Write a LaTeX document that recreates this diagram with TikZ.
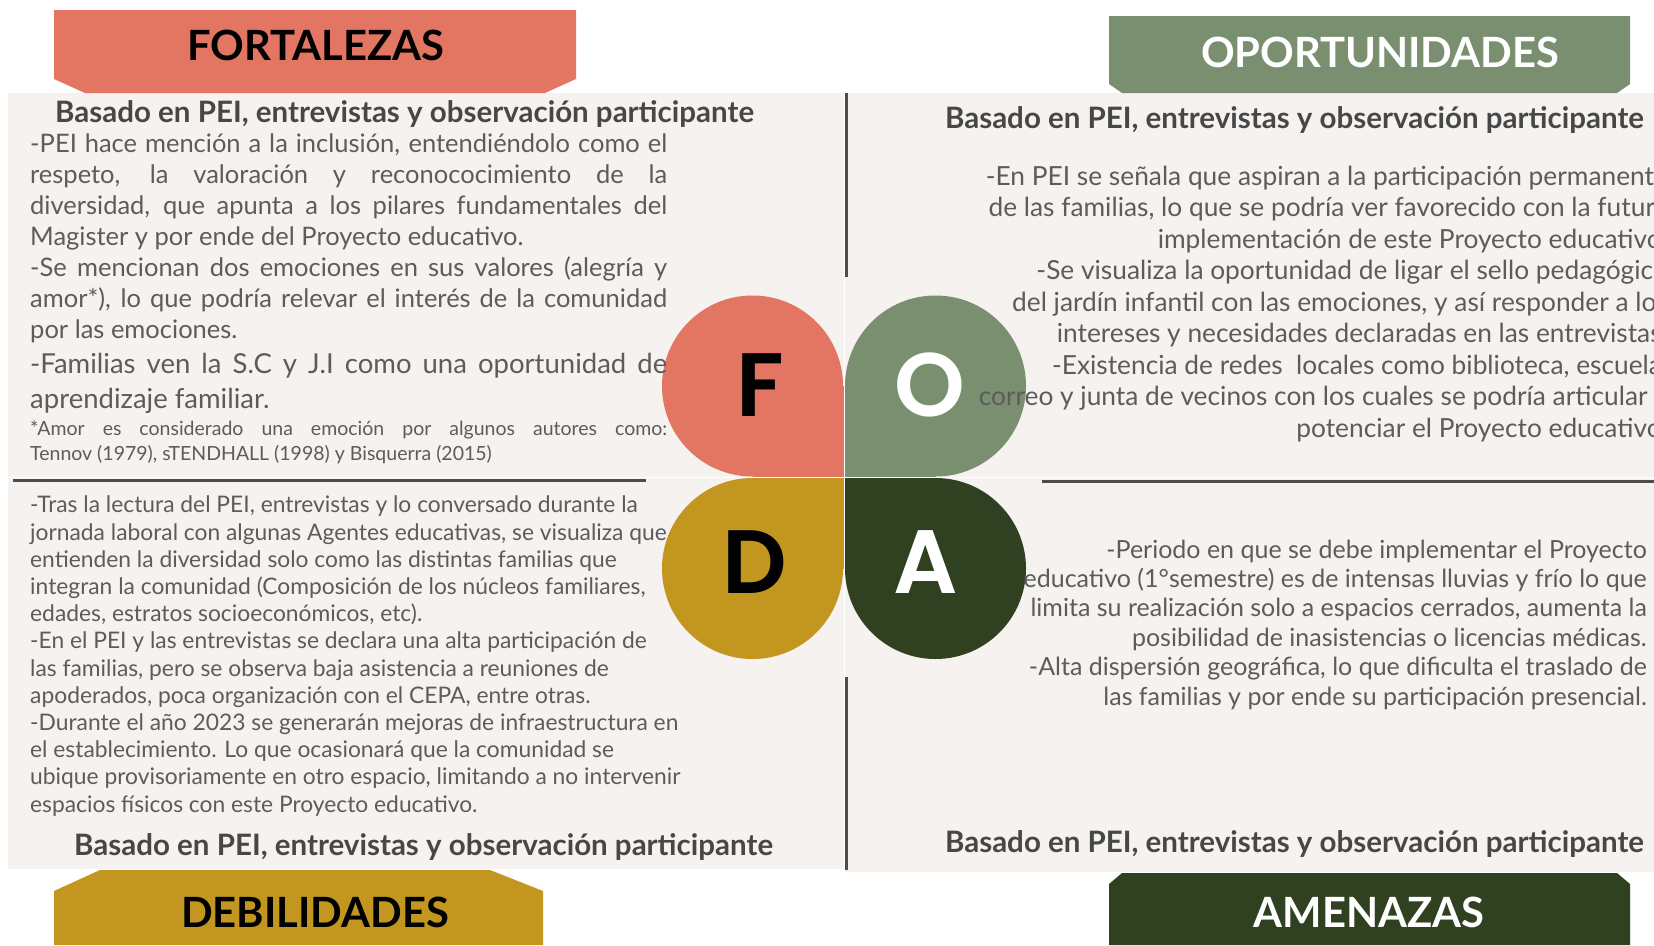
\documentclass[tikz,border=0pt]{standalone}
\usepackage{fontspec}
\setmainfont{Lato}
\newfontfamily\petalfont{Poppins SemiBold}
\usetikzlibrary{positioning}

\definecolor{fortcol}{HTML}{E37563}
\definecolor{oportcol}{HTML}{7A8F6F}
\definecolor{debilcol}{HTML}{C2961F}
\definecolor{amenacol}{HTML}{2F4120}
\definecolor{panelcol}{HTML}{F5F2EF}
\definecolor{rulecol}{HTML}{4D4D4D}
\definecolor{bodycol}{HTML}{5C5C5C}
\definecolor{headcol}{HTML}{474747}

\tikzset{
  banner/.style={inner sep=0pt, font=\fontsize{41.7}{45}\selectfont\bfseries},
  heading/.style={inner sep=0pt, text=headcol, font=\fontsize{29.5}{32}\selectfont\bfseries},
  bodytext/.style={inner sep=0pt, text=bodycol, execute at begin node={\tolerance=10000\hbadness=10000}},
  petal/.style={circle, minimum size=181pt, inner sep=0pt},
  letter/.style={inner sep=0pt, font=\petalfont\fontsize{90}{90}\selectfont},
  divider/.style={draw=rulecol, line width=3pt},
}

\begin{document}
\begin{tikzpicture}[x=1pt, y=-1pt]
    \useasboundingbox (0,0) rectangle (1654,945);
    \clip (0,0) rectangle (1654,945);

    \fill [panelcol] (8,93) rectangle (843.5,476.5);
    \fill [panelcol] (845,93) rectangle (1654,476.5);
    \fill [panelcol] (8,478) rectangle (843.5,869);
    \fill [panelcol] (845,478) rectangle (1654,872);

    \draw [divider] (846,93) -- (846,277);
    \draw [divider] (846,677) -- (846,870);
    \draw [divider] (13,480) -- (646,480);
    \draw [divider] (1042,481) -- (1654,481);

    \fill [fortcol] (54,10) -- (576,10) -- (576,79) -- (545,93) -- (85,93) -- (54,79) -- cycle;
    \fill [oportcol] (1109,16) -- (1630,16) -- (1630,84) -- (1617,93) -- (1122,93) -- (1109,84) -- cycle;
    \fill [debilcol] (54,945) -- (54,891) -- (100,870) -- (490,870) -- (543,891) -- (543,945) -- cycle;
    \fill [amenacol] (1109,945) -- (1109,884) -- (1122,873) -- (1617,873) -- (1630,884) -- (1630,945) -- cycle;

    \node [banner, anchor=base] (tF) at (316,60) {FORTALEZAS};
    \node [banner, anchor=base, text=white] (tO) at (1380,67) {OPORTUNIDADES};
    \node [banner, anchor=base] (tD) at (315,927) {DEBILIDADES};
    \node [banner, anchor=base, text=white] (tA) at (1369,927) {AMENAZAS};

    \fill [fortcol] (752.5,386) rectangle (843.5,476.5);
    \fill [oportcol] (935.5,386) rectangle (845,476.5);
    \fill [debilcol] (752.5,568.5) rectangle (843.5,478);
    \fill [amenacol] (935.5,568.5) rectangle (845,478);

    \node [petal, fill=fortcol] (pF) at (752.5,386) {};
    \node [petal, fill=oportcol] (pO) at (935.5,386) {};
    \node [petal, fill=debilcol] (pD) at (752.5,568.5) {};
    \node [petal, fill=amenacol] (pA) at (935.5,568.5) {};

    \node [letter] (lF) at (760,385) {F};
    \node [letter, text=white] (lO) at (930,385) {O};
    \node [letter] (lD) at (755,562) {D};
    \node [letter, text=white] (lA) at (926,562) {A};

    \node [heading, anchor=base west] (hF) at (55,122) {Basado en PEI, entrevistas y observación participante};
    \node [bodytext, anchor=base west, text width=637pt, align=justify, font=\fontsize{25.5}{31}\selectfont] (bF1) at (30,152)
      {-PEI hace mención a la inclusión, entendiéndolo como el\linebreak
       respeto, la valoración y reconococimiento de la\linebreak
       diversidad, que apunta a los pilares fundamentales del\linebreak
       Magister y por ende del Proyecto educativo.\\
       -Se mencionan dos emociones en sus valores (alegría y\linebreak
       amor*), lo que podría relevar el interés de la comunidad\linebreak
       por las emociones.};
    \node [bodytext, anchor=base west, text width=637pt, align=justify, font=\fontsize{27.5}{35}\selectfont] (bF2) at (30,373)
      {-Familias ven la S.C y J.I como una oportunidad de\linebreak
       aprendizaje familiar.};
    \node [bodytext, anchor=base west, text width=637pt, align=justify, font=\fontsize{19.5}{25}\selectfont] (bF3) at (30,435)
      {*Amor es considerado una emoción por algunos autores como:\linebreak
       Tennov (1979), sTENDHALL (1998) y Bisquerra (2015)};

    \node [heading, anchor=base east] (hO) at (1644,128) {Basado en PEI, entrevistas y observación participante};
    \node [bodytext, anchor=base east, align=right, font=\fontsize{26.3}{31.5}\selectfont] (bO) at (1668,437)
      {-En PEI se señala que aspiran a la participación permanente\\
       de las familias, lo que se podría ver favorecido con la futura\\
       implementación de este Proyecto educativo.\\
       -Se visualiza la oportunidad de ligar el sello pedagógico\\
       del jardín infantil con las emociones, y así responder a los\\
       intereses y necesidades declaradas en las entrevistas.\\
       -Existencia de redes~ locales como biblioteca, escuela,\\
       correo y junta de vecinos con los cuales se podría articular y\\
       potenciar el Proyecto educativo.};

    \node [bodytext, anchor=base west, align=left, font=\fontsize{22.8}{27.2}\selectfont] (bD) at (30,812)
      {-Tras la lectura del PEI, entrevistas y lo conversado durante la\\
       jornada laboral con algunas Agentes educativas, se visualiza que\\
       entienden la diversidad solo como las distintas familias que\\
       integran la comunidad (Composición de los núcleos familiares,\\
       edades, estratos socioeconómicos, etc).\\
       -En el PEI y las entrevistas se declara una alta participación de\\
       las familias, pero se observa baja asistencia a reuniones de\\
       apoderados, poca organización con el CEPA, entre otras.\\
       -Durante el año 2023 se generarán mejoras de infraestructura en\\
       el establecimiento. Lo que ocasionará que la comunidad se\\
       ubique provisoriamente en otro espacio, limitando a no intervenir\\
       espacios físicos con este Proyecto educativo.};
    \node [heading, anchor=base west] (hD) at (74,855) {Basado en PEI, entrevistas y observación participante};

    \node [bodytext, anchor=base east, align=right, font=\fontsize{25}{29.4}\selectfont] (bA) at (1647,705)
      {-Periodo en que se debe implementar el Proyecto\\
       educativo (1°semestre) es de intensas lluvias y frío lo que\\
       limita su realización solo a espacios cerrados, aumenta la\\
       posibilidad de inasistencias o licencias médicas.\\
       -Alta dispersión geográfica, lo que dificulta el traslado de\\
       las familias y por ende su participación presencial.};
    \node [heading, anchor=base east] (hA) at (1644,852) {Basado en PEI, entrevistas y observación participante};
\end{tikzpicture}
\end{document}
